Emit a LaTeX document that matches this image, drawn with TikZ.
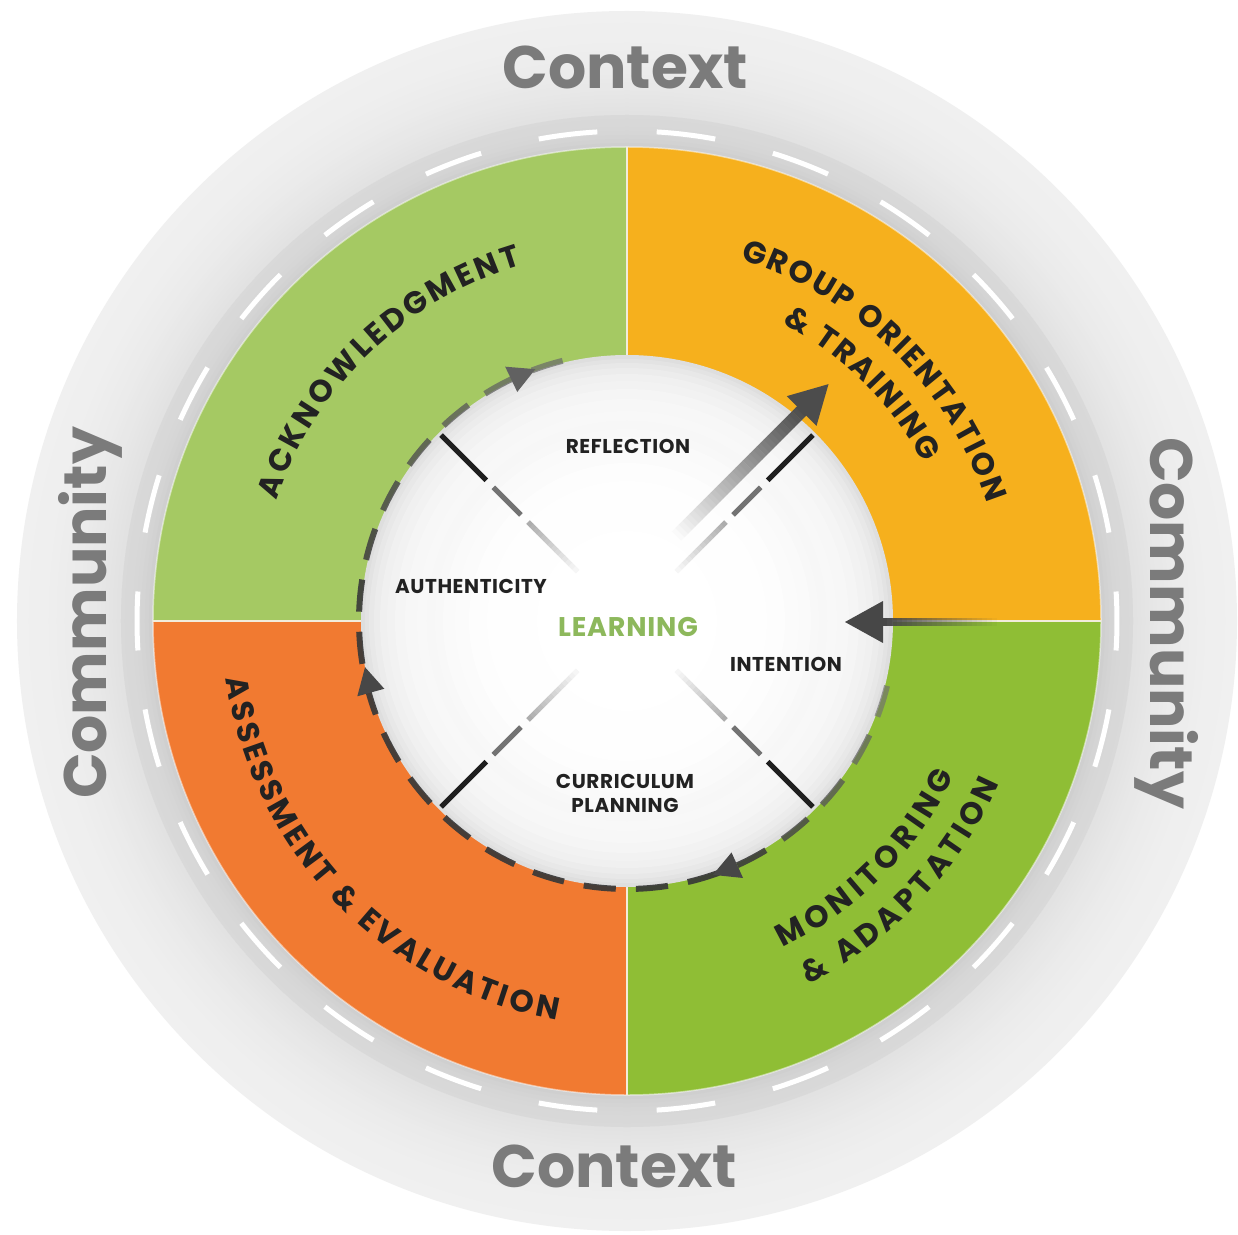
\documentclass[tikz,border=0pt]{standalone}
\usepackage{fontspec}
\setmainfont{Poppins}
\usetikzlibrary{decorations.text}
\definecolor{gTL}{HTML}{A5C963}
\definecolor{oTR}{HTML}{F6B01D}
\definecolor{oBL}{HTML}{F17A31}
\definecolor{gBR}{HTML}{8FBE35}
\definecolor{ctxgray}{HTML}{7B7B7B}
\definecolor{lbldark}{HTML}{222222}
\definecolor{learngreen}{HTML}{8DB85C}
\definecolor{sepcol}{HTML}{F2ECDC}
\newcommand\quadfont{\fontsize{31}{31}\selectfont\bfseries\color{lbldark}}
\begin{document}
\begin{tikzpicture}[x=1pt,y=1pt,
  ctxt/.style={font=\fontsize{60}{60}\selectfont\bfseries, text=ctxgray, inner sep=0pt},
  inlbl/.style={font=\fontsize{20}{24}\selectfont\bfseries\addfontfeature{LetterSpace=3}, text=lbldark, inner sep=0pt, align=center},
  sepline/.style={draw=sepcol, line width=2.5pt},
  diag/.style={line width=5pt},
  qlabel/.style={decorate, decoration={text along path, text align={fit to path}, text={#1}}}
]
\useasboundingbox (-627,-613) rectangle (611,621);
\fill[white] (-627,-613) rectangle (611,621);

% outer grey disk
\foreach \r in {610,606,...,506}{
  \pgfmathsetmacro\p{6+6*((610-\r)/104)^2}
  \fill[black!\p] (0,0) circle[radius=\r];
}
% darker band around coloured ring
\foreach \r in {506,502,...,474}{
  \pgfmathsetmacro\p{15+5*((506-\r)/32)^2}
  \fill[black!\p] (0,0) circle[radius=\r];
}
% white dashes on the band
\foreach \k in {0,...,25}{
  \pgfmathsetmacro\a{\k*13.846-3.45}
  \pgfmathsetmacro\b{\a+6.9}
  \draw[white, line width=5pt] (\a:490) arc[start angle=\a, end angle=\b, radius=490];
}

% coloured quadrants
\fill[gTL] (0,0) -- (90:474) arc[start angle=90, end angle=180, radius=474] -- cycle;
\fill[oTR] (0,0) -- (0:474) arc[start angle=0, end angle=90, radius=474] -- cycle;
\fill[oBL] (0,0) -- (180:474) arc[start angle=180, end angle=270, radius=474] -- cycle;
\fill[gBR] (0,0) -- (270:474) arc[start angle=270, end angle=360, radius=474] -- cycle;
\draw[white, opacity=0.5, line width=1.5pt] (0,0) circle[radius=474];
\foreach \a in {0,90,180,270}{
  \draw[sepline] (\a:260) -- (\a:474);
}

% inner white disk
\foreach \r/\p in {266/13, 262/11, 258/9, 253/7.5, 247/6, 240/5, 232/4, 222/3.2, 210/2.6, 200/3.2, 192/2.8, 184/2, 172/1.4, 158/0.9, 140/0.5, 115/0.2, 90/0}{
  \fill[black!\p] (0,0) circle[radius=\r];
}

% diagonal fading dashed lines
\foreach \ang in {45,135,225,315}{
  \begin{scope}[rotate=\ang]
    \draw[diag, draw=black!88] (263,0) -- (199,0);
    \draw[diag, draw=black!55] (189,0) -- (150,0);
    \foreach \k in {0,...,13}{
      \pgfmathsetmacro\ra{140-5*\k}
      \pgfmathsetmacro\rb{\ra-5.3}
      \pgfmathsetmacro\pp{32-2.2*\k}
      \draw[diag, draw=black!\pp] (\ra,0) -- (\rb,0);
    }
  \end{scope}
}

% dashed cycle circle (lighter at both ends)
\foreach \i in {0,...,21}{
  \pgfmathsetmacro\a{-14-\i*11.2}
  \pgfmathsetmacro\b{\a-6.9}
  \pgfmathsetmacro\t{max(0,min(1,(-\a-180)/80))}
  \pgfmathsetmacro\u{max(0,min(1,(\a+62)/48))}
  \pgfmathsetmacro\m{max(\t,\u)}
  \pgfmathsetmacro\p{78-22*\m}
  \pgfmathsetmacro\o{0.92-0.25*\m}
  \draw[line width=6pt, draw=black!\p, draw opacity=\o] (\a:268) arc[start angle=\a, end angle=\b, radius=268];
}
\fill[black!62] (110:268) -- (115.6:254) -- (115.6:282) -- cycle;
\fill[black!72] (190:266) -- (195.6:252) -- (195.6:280) -- cycle;
\fill[black!72] (-71.3:268) -- (-65.7:254) -- (-65.7:282) -- cycle;

% gradient arrow (top right)
\begin{scope}[rotate=45]
  \foreach \k in {0,...,35}{
    \pgfmathsetmacro\ra{95+5*\k}
    \pgfmathsetmacro\rb{\ra+5.3}
    \pgfmathsetmacro\pp{2+68*(\k/35)}
    \draw[line width=13pt, draw=black!\pp] (\ra,25) -- (\rb,25);
  }
  \fill[black!70] (310,25) -- (272,46) -- (272,4) -- cycle;
\end{scope}

% horizontal arrow from the right
\foreach \k in {0,...,23}{
  \pgfmathsetmacro\xa{255+5*\k}
  \pgfmathsetmacro\xb{\xa+5.3}
  \pgfmathsetmacro\oo{1-\k/23}
  \draw[line width=8pt, draw=black!72, draw opacity=\oo] (\xa,-1) -- (\xb,-1);
}
\fill[black!72] (218,-1) -- (256,20) -- (256,-22) -- cycle;

% outer texts
\node[ctxt, anchor=base] (ctxtop) at (-2,532) {Context};
\node[ctxt, anchor=base] (ctxbot) at (-13,-566) {Context};
\node[ctxt, anchor=base, rotate=90] (comleft) at (-520,8) {Community};
\node[ctxt, anchor=base, rotate=-90] (comright) at (523,-2) {Community};

% quadrant labels
\path[qlabel={|\quadfont|ACKNOWLEDGMENT}] (161:371) arc[start angle=161, end angle=106.5, radius=371];
\path[qlabel={|\quadfont|GROUP ORIENTATION}] (72.6:379) arc[start angle=72.6, end angle=18.1, radius=379];
\path[qlabel={|\quadfont|{\&} TRAINING}] (62.4:336) arc[start angle=62.4, end angle=28.1, radius=336];
\path[qlabel={|\quadfont|MONITORING}] (-64.5:362) arc[start angle=-64.5, end angle=-25.2, radius=362];
\path[qlabel={|\quadfont|{\&} ADAPTATION}] (-63.5:406) arc[start angle=-63.5, end angle=-23.5, radius=406];
\path[qlabel={|\quadfont|ASSESSMENT {\&} EVALUATION}] (188.2:405) arc[start angle=188.2, end angle=260, radius=405];

% inner labels
\node[inlbl] (refl) at (1,175) {REFLECTION};
\node[inlbl] (auth) at (-156,35) {AUTHENTICITY};
\node[inlbl, font=\fontsize{27}{27}\selectfont\bfseries\addfontfeature{LetterSpace=3}, text=learngreen] (learn) at (1,-6) {LEARNING};
\node[inlbl] (inten) at (159,-43) {INTENTION};
\node[inlbl] (curr) at (-2,-172) {CURRICULUM\\PLANNING};
\end{tikzpicture}
\end{document}
